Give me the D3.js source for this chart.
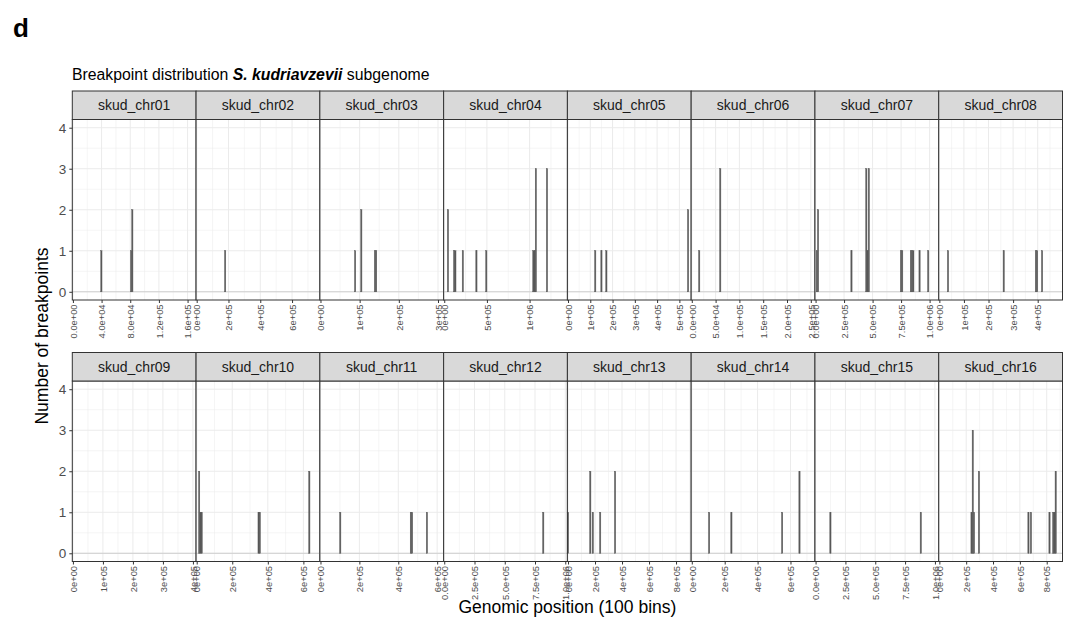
<!DOCTYPE html>
<html><head><meta charset="utf-8">
<script src="https://cdn.jsdelivr.net/npm/d3@7"></script>
<style>
body{margin:0;background:#fff}
text{font-family:"Liberation Sans",Arial,Helvetica,sans-serif}
</style>
</head><body>
<svg id="chart" width="1065" height="630"></svg>
<script>
// ---------------- data ----------------
const chromosomes = ["skud_chr01","skud_chr02","skud_chr03","skud_chr04","skud_chr05","skud_chr06","skud_chr07","skud_chr08",
                     "skud_chr09","skud_chr10","skud_chr11","skud_chr12","skud_chr13","skud_chr14","skud_chr15","skud_chr16"];
// estimated chromosome lengths (bp)
const chromLengths = [171000, 771000, 312800, 1435700, 550200, 257400, 1074600, 498400,
                      408400, 689100, 630000, 1012500, 907500, 745000, 1026600, 913100];
const xTickValues = [
  [0,4e4,8e4,1.2e5,1.6e5],
  [0,2e5,4e5,6e5],
  [0,1e5,2e5,3e5],
  [0,5e5,1e6],
  [0,1e5,2e5,3e5,4e5,5e5],
  [0,5e4,1e5,1.5e5,2e5,2.5e5],
  [0,2.5e5,5e5,7.5e5,1e6],
  [0,1e5,2e5,3e5,4e5],
  [0,1e5,2e5,3e5,4e5],
  [0,2e5,4e5,6e5],
  [0,2e5,4e5,6e5],
  [0,2.5e5,5e5,7.5e5,1e6],
  [0,2e5,4e5,6e5,8e5],
  [0,2e5,4e5,6e5],
  [0,2.5e5,5e5,7.5e5,1e6],
  [0,2e5,4e5,6e5,8e5]
];
// histogram bins with breakpoints: bin centre position (bp) and count
const binPositions = [
  [39700, 81200, 82900],
  [179100],
  [88500, 104300, 139000, 142200],
  [43500, 116000, 130500, 217500, 377100, 493100, 1044100, 1058600, 1073100, 1203700],
  [122300, 150100, 172300, 539100],
  [15600, 59800],
  [10900, 21700, 314800, 445100, 455900, 466800, 749000, 759900, 835800, 846700, 857500, 911800, 987800],
  [35200, 261800, 392700, 397700, 417800],
  [],
  [13900, 20900, 27800, 348000, 355000, 633500],
  [101800, 464600, 471000, 547300],
  [818200],
  [0, 165000, 183300, 238300, 348300],
  [105400, 240800, 549300, 654700],
  [124400, 881500],
  [239800, 249000, 258200, 295100, 664100, 682500, 820800, 848500, 857700, 867000]
];
const binCounts = [
  [1, 1, 2],
  [1],
  [1, 2, 1, 1],
  [2, 1, 1, 1, 1, 1, 1, 1, 3, 3],
  [1, 1, 1, 2],
  [1, 3],
  [1, 2, 1, 3, 1, 3, 1, 1, 1, 1, 1, 1, 1],
  [1, 1, 1, 1, 1],
  [],
  [2, 1, 1, 1, 1, 2],
  [1, 1, 1, 1],
  [1],
  [1, 2, 1, 1, 2],
  [1, 1, 1, 2],
  [1, 1],
  [1, 3, 1, 2, 1, 1, 1, 1, 1, 2]
];
const yTickValues = [0, 1, 2, 3, 4];
const nBins = 100;

// ---------------- layout ----------------
const svg = d3.select("#chart");
const ncol = 8;
const panelLeft0 = 72.3, panelW = 123.775;
const stripH = 28.5, panelH = 180.5;
const rowStripTop = [91, 352.5];

function fmtTicks(vals){
  let D = 0;
  vals.forEach(v => {
    if (v === 0) return;
    for (let d = 0; d <= 4; d++) { if (+v.toExponential(d) === v) { D = Math.max(D, d); break; } }
  });
  return v => v.toExponential(D).replace(/e([+-])(\d)$/, "e$10$2");
}

// panel label "d"
svg.append("text").attr("x", 13).attr("y", 37).attr("font-size", 26).attr("font-weight", "bold")
  .attr("fill", "#000").text("d");
// title
const title = svg.append("text").attr("x", 72).attr("y", 80).attr("font-size", 15.8).attr("fill", "#000");
title.append("tspan").text("Breakpoint distribution ");
title.append("tspan").attr("font-weight", "bold").attr("font-style", "italic").text("S. kudriavzevii");
title.append("tspan").text(" subgenome");

chromosomes.forEach((name, k) => {
  const row = Math.floor(k / ncol), col = k % ncol;
  const left = panelLeft0 + col * panelW;
  const sTop = rowStripTop[row];
  const pTop = sTop + stripH, pBot = pTop + panelH;
  const L = chromLengths[k];
  const w = L / (nBins - 1);
  const x = d3.scaleLinear().domain([-w / 2, L + w / 2]).range([left, left + panelW]);
  const y = d3.scaleLinear().domain([-0.2, 4.2]).range([pBot, pTop]);
  const g = svg.append("g");

  g.append("rect").attr("x", left).attr("y", pTop).attr("width", panelW).attr("height", panelH).attr("fill", "#fff");

  // grid
  const ticks = xTickValues[k];
  const step = ticks[1] - ticks[0];
  const xMinor = [];
  for (let v = ticks[0] - step / 2; v <= L + w / 2; v += step) if (v >= -w / 2) xMinor.push(v);
  const yMinor = [-0.5, 0.5, 1.5, 2.5, 3.5].filter(v => v >= -0.2 && v <= 4.2);
  g.selectAll(".xmin").data(xMinor).enter().append("line")
    .attr("x1", d => x(d)).attr("x2", d => x(d)).attr("y1", pTop).attr("y2", pBot)
    .attr("stroke", "#ebebeb").attr("stroke-width", 0.5);
  g.selectAll(".ymin").data(yMinor).enter().append("line")
    .attr("x1", left).attr("x2", left + panelW).attr("y1", d => y(d)).attr("y2", d => y(d))
    .attr("stroke", "#ebebeb").attr("stroke-width", 0.5);
  g.selectAll(".xmaj").data(ticks).enter().append("line")
    .attr("x1", d => x(d)).attr("x2", d => x(d)).attr("y1", pTop).attr("y2", pBot)
    .attr("stroke", "#ebebeb").attr("stroke-width", 1);
  g.selectAll(".ymaj").data(yTickValues).enter().append("line")
    .attr("x1", left).attr("x2", left + panelW).attr("y1", d => y(d)).attr("y2", d => y(d))
    .attr("stroke", "#ebebeb").attr("stroke-width", 1);

  // zero baseline of the histogram
  g.append("line").attr("x1", x(-w / 2)).attr("x2", x(L + w / 2)).attr("y1", y(0)).attr("y2", y(0))
    .attr("stroke", "#c6c6c6").attr("stroke-width", 0.8);

  // bars
  const bars = binPositions[k].map((p, i) => ({ bin: Math.round(p / w), n: binCounts[k][i] }));
  g.selectAll(".bar").data(bars).enter().append("rect")
    .attr("x", d => x((d.bin - 0.5) * w)).attr("width", d => x((d.bin + 0.5) * w) - x((d.bin - 0.5) * w))
    .attr("y", d => y(d.n)).attr("height", d => y(0) - y(d.n))
    .attr("fill", "#595959").attr("stroke", "#595959").attr("stroke-width", 0.45);

  // border
  g.append("rect").attr("x", left).attr("y", pTop).attr("width", panelW).attr("height", panelH)
    .attr("fill", "none").attr("stroke", "#333333").attr("stroke-width", 1);

  // strip
  g.append("rect").attr("x", left).attr("y", sTop).attr("width", panelW).attr("height", stripH)
    .attr("fill", "#d9d9d9").attr("stroke", "#333333").attr("stroke-width", 1);
  g.append("text").attr("x", left + panelW / 2).attr("y", sTop + stripH / 2).attr("dy", "0.36em")
    .attr("text-anchor", "middle").attr("font-size", 14).attr("fill", "#1a1a1a").text(name);

  // x axis
  const fmt = fmtTicks(ticks);
  const ax = g.append("g").attr("transform", `translate(0,${pBot})`)
    .call(d3.axisBottom(x).tickValues(ticks).tickSize(3).tickFormat(fmt));
  ax.select(".domain").remove();
  ax.selectAll(".tick line").attr("stroke", "#333333");
  ax.selectAll(".tick text").attr("transform", "rotate(-90)").attr("x", -4.5).attr("y", 0).attr("dy", "0.35em")
    .attr("text-anchor", "end").attr("font-size", 9.3).attr("font-family", "Liberation Sans, Arial, sans-serif")
    .attr("fill", "#4d4d4d");

  // y axis on first column
  if (col === 0) {
    const ay = g.append("g").attr("transform", `translate(${left},0)`)
      .call(d3.axisLeft(y).tickValues(yTickValues).tickSize(3).tickPadding(3).tickFormat(d3.format("d")));
    ay.select(".domain").remove();
    ay.selectAll(".tick line").attr("stroke", "#333333");
    ay.selectAll(".tick text").attr("font-size", 13.5).attr("font-family", "Liberation Sans, Arial, sans-serif")
      .attr("fill", "#4d4d4d");
  }
});

// axis titles
svg.append("text").attr("transform", "translate(42,336) rotate(-90)").attr("dy", "0.35em")
  .attr("text-anchor", "middle").attr("font-size", 17.5).attr("fill", "#000").text("Number of breakpoints");
svg.append("text").attr("x", 567.4).attr("y", 613).attr("text-anchor", "middle").attr("font-size", 17.5)
  .attr("fill", "#000").text("Genomic position (100 bins)");
</script>
</body></html>
